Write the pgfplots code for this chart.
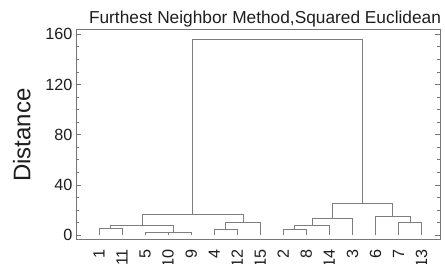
\documentclass[border=0pt]{standalone}
\usepackage{pgfplots}
\pgfplotsset{compat=1.18}
\usepackage{fontspec}
\setmainfont{Liberation Sans}
\definecolor{lin}{HTML}{7E7E7E}
\definecolor{frm}{HTML}{767676}
\definecolor{txt}{HTML}{1E1E1E}
\tikzset{dl/.style={lin, line width=0.9pt, mark=none, solid}}
\begin{document}
\begin{tikzpicture}
\begin{axis}[
  at={(0pt,0pt)}, anchor=south west,
  scale only axis, width=364pt, height=210.5pt,
  xmin=-1, xmax=14.8, ymin=-3.4, ymax=164.2,
  axis line style={frm, line width=0.9pt},
  xtick={0,1,2,3,4,5,6,7,8,9,10,11,12,13,14},
  xticklabels={1,11,5,10,9,4,12,15,2,8,14,3,6,7,13},
  major x tick style={draw=none},
  xticklabel style={rotate=90, anchor=east, xshift=-6pt, font=\fontsize{16.2}{18}\selectfont, text=txt},
  ytick={0,40,80,120,160},
  minor y tick num=3,
  ytick pos=both,
  tick align=inside,
  major tick length=5pt, minor tick length=3pt,
  y tick style={frm, line width=0.8pt},
  yticklabel style={font=\fontsize{16.2}{18}\selectfont, text=txt},
  /pgf/number format/assume math mode=true,
]
\addplot[dl] coordinates {(0,0)(0,5.6)(1,5.6)(1,0)};
\addplot[dl] coordinates {(2,0)(2,2.0)(3,2.0)(3,0)};
\addplot[dl] coordinates {(2.5,2.0)(2.5,2.6)(4,2.6)(4,0)};
\addplot[dl] coordinates {(0.5,5.6)(0.5,8.0)(3.25,8.0)(3.25,2.6)};
\addplot[dl] coordinates {(5,0)(5,4.2)(6,4.2)(6,0)};
\addplot[dl] coordinates {(5.5,4.2)(5.5,10.3)(7,10.3)(7,0)};
\addplot[dl] coordinates {(1.875,8.0)(1.875,16.7)(6.25,16.7)(6.25,10.3)};
\addplot[dl] coordinates {(8,0)(8,4.7)(9,4.7)(9,0)};
\addplot[dl] coordinates {(8.5,4.7)(8.5,8.0)(10,8.0)(10,0)};
\addplot[dl] coordinates {(9.25,8.0)(9.25,13.2)(11,13.2)(11,0)};
\addplot[dl] coordinates {(13,0)(13,10.0)(14,10.0)(14,0)};
\addplot[dl] coordinates {(12,0)(12,14.8)(13.5,14.8)(13.5,10.0)};
\addplot[dl] coordinates {(10.125,13.2)(10.125,25.5)(12.75,25.5)(12.75,14.8)};
\addplot[dl] coordinates {(4.0625,16.7)(4.0625,156)(11.4375,156)(11.4375,25.5)};
\end{axis}
\node[anchor=base, inner sep=0pt, text=txt, font=\fontsize{17.3}{20}\selectfont] at (189pt,215.5pt) {Furthest Neighbor Method,Squared Euclidean};
\node[rotate=90, inner sep=0pt, text=txt, font=\fontsize{24}{28}\selectfont] at (-54.3pt,104.5pt) {Distance};
\pgfresetboundingbox
\useasboundingbox (-76pt,-24.5pt) rectangle (369pt,239.5pt);
\end{tikzpicture}
\end{document}
